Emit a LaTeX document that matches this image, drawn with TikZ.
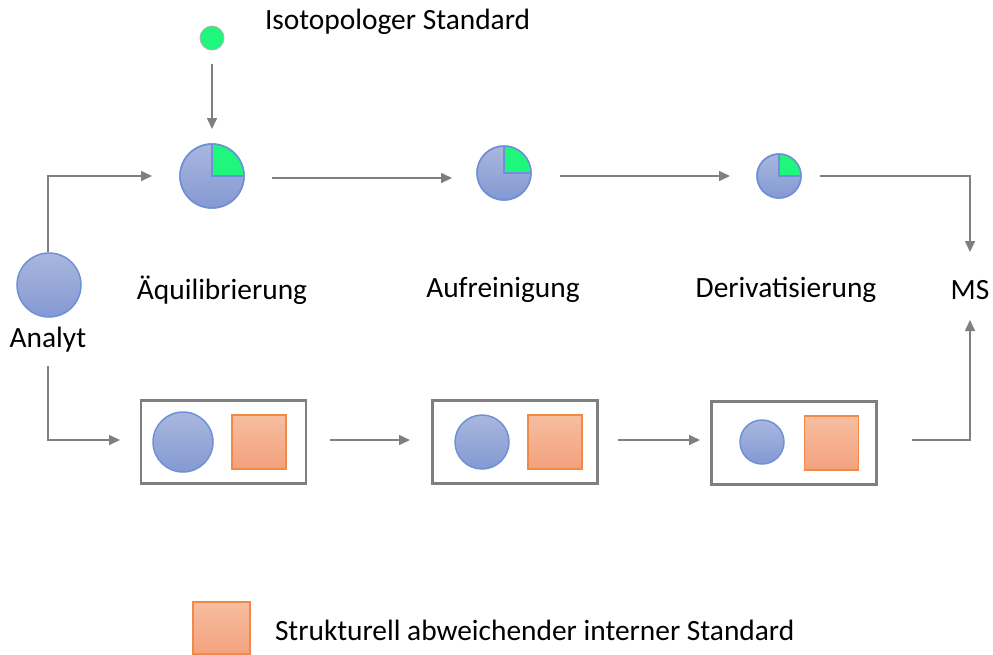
\documentclass[tikz,border=0pt]{standalone}
\usepackage{fontspec}
\setmainfont{Carlito}
\usetikzlibrary{arrows.meta}
\definecolor{bluefillA}{HTML}{A9B7DE}
\definecolor{bluefillB}{HTML}{8499D3}
\definecolor{blueedge}{HTML}{7090D6}
\definecolor{greenq}{HTML}{1EF77C}
\definecolor{orangeA}{HTML}{F7BDA0}
\definecolor{orangeB}{HTML}{F3A27D}
\definecolor{orangeedge}{HTML}{F0894A}
\definecolor{graybox}{HTML}{7F7F7F}
\begin{document}
\begin{tikzpicture}[x=1pt,y=-1pt,
  every node/.style={inner sep=0pt,outer sep=0pt},
  txt/.style={font=\fontsize{29.4}{35}\selectfont,text=black},
  blob/.style={circle,draw=blueedge,line width=1.5pt,top color=bluefillA,bottom color=bluefillB},
  sq/.style={rectangle,draw=orangeedge,line width=1.5pt,top color=orangeA,bottom color=orangeB,minimum width=54pt,minimum height=54pt},
  frame/.style={rectangle,draw=graybox,line width=2.5pt,minimum width=165pt,minimum height=83pt},
  conn/.style={draw=graybox,line width=1.6pt,-{Triangle[length=11pt,width=10pt]}},
  plain/.style={draw=graybox,line width=1.6pt}]
\useasboundingbox (0,0) rectangle (993,654);
% green standard
\node[circle,fill=greenq,draw=gray!60,line width=0.8pt,minimum size=24pt] (gdot) at (212,38) {};
\node[txt,anchor=west] (isotxt) at (265,22) {Isotopologer Standard};
% pies
\node[blob,minimum size=64pt] (p1) at (212,176) {};
\node[blob,minimum size=54pt] (p2) at (504,173) {};
\node[blob,minimum size=44pt] (p3) at (779,176) {};
\fill[greenq] (p1.center) -- (p1.east) arc (0:90:32pt) -- cycle;
\draw[blueedge,line width=1.2pt] (p1.north) -- (p1.center) -- (p1.east);
\fill[greenq] (p2.center) -- (p2.east) arc (0:90:27pt) -- cycle;
\draw[blueedge,line width=1.2pt] (p2.north) -- (p2.center) -- (p2.east);
\fill[greenq] (p3.center) -- (p3.east) arc (0:90:22pt) -- cycle;
\draw[blueedge,line width=1.2pt] (p3.north) -- (p3.center) -- (p3.east);
\draw[blueedge,line width=1.5pt] (p1) circle (32pt);
\draw[blueedge,line width=1.5pt] (p2) circle (27pt);
\draw[blueedge,line width=1.5pt] (p3) circle (22pt);
% analyte
\node[blob,minimum size=64pt] (an) at (49,285) {};
\node[txt] (antxt) at (48,340) {Analyt};
% labels
\node[txt] (l1) at (222,290) {Äquilibrierung};
\node[txt] (l2) at (503,290) {Aufreinigung};
\node[txt] (l3) at (786,290) {Derivatisierung};
\node[txt] (ms) at (970,290) {MS};
% bottom boxes
\node[frame] (b1) at (223.5,442) {};
\node[blob,minimum size=60pt] (c1) at (183,442) {};
\node[sq] (s1) at (259,442) {};
\node[frame] (b2) at (515,442) {};
\node[blob,minimum size=54pt] (c2) at (482,442) {};
\node[sq] (s2) at (555,442) {};
\node[frame] (b3) at (794,443) {};
\node[blob,minimum size=44pt] (c3) at (762,442) {};
\node[sq] (s3) at (831.5,443) {};
% legend
\node[sq,minimum width=57pt,minimum height=52pt] (leg) at (221.5,628) {};
\node[txt,anchor=west] (legtxt) at (275,630) {Strukturell abweichender interner Standard};
% coordinates
\coordinate (a1s) at (48,252);
\coordinate (a1e) at (152,176);
\coordinate (a2s) at (48,366);
\coordinate (a2e) at (120,440);
\coordinate (t1s) at (272,178);
\coordinate (t1e) at (452,178);
\coordinate (t2s) at (560,176);
\coordinate (t2e) at (730,176);
\coordinate (t3s) at (820,176);
\coordinate (mstop) at (970,252);
\coordinate (msbot) at (970,320);
\coordinate (u1s) at (330,440);
\coordinate (u1e) at (410,440);
\coordinate (u2s) at (618,440);
\coordinate (u2e) at (700,440);
\coordinate (u3s) at (912,440);
\coordinate (gs) at (212,64);
\coordinate (ge) at (212,129);
% connectors
\draw[conn] (gs) -- (ge);
\draw[conn] (a1s) |- (a1e);
\draw[conn] (a2s) |- (a2e);
\draw[conn] (t1s) -- (t1e);
\draw[conn] (t2s) -- (t2e);
\draw[conn] (t3s) -| (mstop);
\draw[conn] (u1s) -- (u1e);
\draw[conn] (u2s) -- (u2e);
\draw[conn] (u3s) -| (msbot);
\end{tikzpicture}
\end{document}
